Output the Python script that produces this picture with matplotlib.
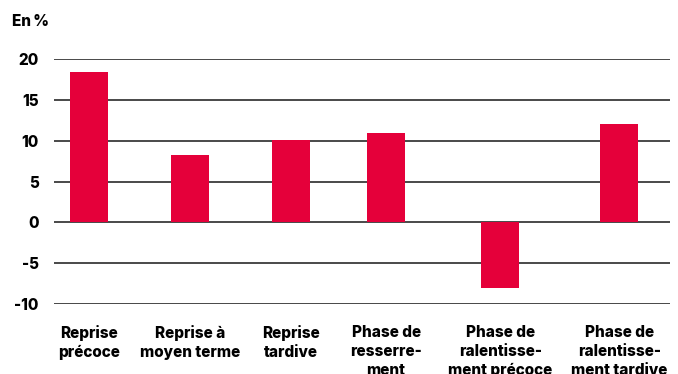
import matplotlib
matplotlib.use("Agg")
import matplotlib.pyplot as plt

categories = ["Reprise\nprécoce", "Reprise à\nmoyen terme", "Reprise\ntardive",
              "Phase de\nresserre-\nment", "Phase de\nralentisse-\nment précoce",
              "Phase de\nralentisse-\nment tardive"]
values = [18.4, 8.2, 10.1, 11.0, -8.0, 12.0]
yticks = [-10, -5, 0, 5, 10, 15, 20]
unit_label = "En\u2009%"

# layout: slot centres (uneven spacing as in the reference)
slots = [0, 1, 2, 2.94, 4.07, 5.25]

plt.rcParams['font.family'] = ['Inter', 'DejaVu Sans']
fig = plt.figure(figsize=(6.78, 3.74), dpi=100)
ax = fig.add_axes([54/678, 1-304/374, (670-54)/678, (304-59)/374])

for t in yticks:
    if t == -10:
        ax.axhline(t, color='#111111', lw=1.8, zorder=1)
    else:
        ax.axhline(t, color='#3a3a3a', lw=1.3, zorder=1)

ax.bar(slots, values, width=0.376, color='#E5003A', zorder=2)

ax.set_xlim(-0.347, 5.75)
ax.set_ylim(-10, 20)
ax.set_yticks(yticks)
ax.set_yticklabels([str(t) for t in yticks], fontsize=11, fontweight='heavy')
ax.set_xticks(slots)
ax.set_xticklabels(categories, fontsize=11, fontweight='heavy', linespacing=1.34)
ax.tick_params(axis='y', length=0, pad=11)
ax.tick_params(axis='x', length=0, pad=15)
for s in ax.spines.values():
    s.set_visible(False)

fig.text(12/678, 1-22/374, unit_label, fontsize=11, fontweight='heavy', va='center', ha='left')

fig.savefig("out.png", dpi=100)
